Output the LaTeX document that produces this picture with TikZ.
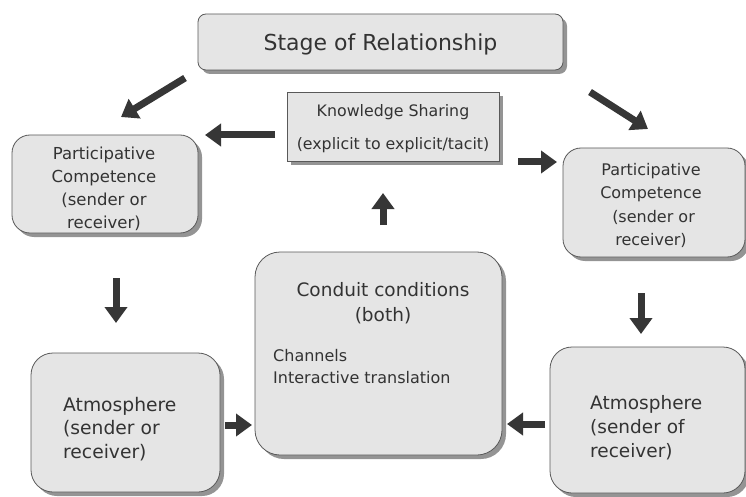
\documentclass[tikz,border=0pt]{standalone}
\usepackage{fontspec}
\setmainfont{DejaVu Sans}
\usetikzlibrary{shadows,arrows.meta}
\definecolor{txtc}{HTML}{333333}
\definecolor{arrc}{HTML}{363636}
\tikzset{
  box/.style={draw=black!65, fill=black!10, line width=0.8pt,
    drop shadow={shadow xshift=4pt, shadow yshift=-4pt, fill=black!42, opacity=1}},
  lbl/.style={text=txtc, inner sep=0pt},
  arr/.style={draw=arrc, line width=7pt, -{Triangle[width=22pt,length=16pt]}}
}
\newcommand{\fs}[2]{\fontsize{#1}{#2}\selectfont}
\begin{document}
\begin{tikzpicture}[x=1pt,y=-1pt]
\useasboundingbox (0,0) rectangle (746,497);
% boxes
\node[box, rounded corners=8pt, minimum width=365pt, minimum height=56pt] (stage) at (380.5,42) {};
\node[box, minimum width=212pt, minimum height=69pt] (ks) at (393,126.5) {};
\node[box, rounded corners=18pt, minimum width=186pt, minimum height=98pt] (pcl) at (105,184) {};
\node[box, rounded corners=18pt, minimum width=182pt, minimum height=109pt] (pcr) at (654,202.5) {};
\node[box, rounded corners=25pt, minimum width=247pt, minimum height=203pt] (cond) at (378.5,353.5) {};
\node[box, rounded corners=22pt, minimum width=189pt, minimum height=139pt] (atl) at (125.5,422.5) {};
\node[box, rounded corners=22pt, minimum width=195pt, minimum height=146pt] (atr) at (647.5,420) {};
% texts
\node[lbl, font=\fs{22}{26}] (stageT) at (380.5,44) {Stage of Relationship};
\node[lbl, align=center, font=\fs{15.8}{33}] (ksT) at (393,129) {Knowledge Sharing\\(explicit to explicit/tacit)};
\node[lbl, align=center, font=\fs{16.5}{23}] (pclT) at (104,189) {Participative\\Competence\\(sender or\\receiver)};
\node[lbl, align=center, font=\fs{16}{23.5}] (pcrT) at (651,205.5) {Participative\\Competence\\\ (sender or\\receiver)};
\node[lbl, align=center, font=\fs{18.5}{25}] (condT) at (383,303) {Conduit conditions\\(both)};
\node[lbl, align=left, anchor=west, font=\fs{16}{22}] (condL) at (273,367) {Channels\\Interactive translation};
\node[lbl, align=left, anchor=west, font=\fs{18.7}{23.5}] (atlT) at (63,429) {Atmosphere\\(sender or\\receiver)};
\node[lbl, align=left, anchor=west, font=\fs{18.5}{24}] (atrT) at (590,428) {Atmosphere\\(sender of\\receiver)};
% arrow end points
\coordinate (a1s) at (185,78);  \coordinate (a1e) at (121,117);
\coordinate (a2s) at (590,92);  \coordinate (a2e) at (648,129);
\coordinate (a3s) at (275,135); \coordinate (a3e) at (205,135);
\coordinate (a4s) at (518,162); \coordinate (a4e) at (557,162);
\coordinate (a5s) at (383,225); \coordinate (a5e) at (383,193);
\coordinate (a6s) at (116,278); \coordinate (a6e) at (116,323);
\coordinate (a7s) at (641,293); \coordinate (a7e) at (641,334);
\coordinate (a8s) at (225,425); \coordinate (a8e) at (252,425);
\coordinate (a9s) at (545,424); \coordinate (a9e) at (507,424);
\draw[arr] (a1s) -- (a1e);
\draw[arr] (a2s) -- (a2e);
\draw[arr] (a3s) -- (a3e);
\draw[arr] (a4s) -- (a4e);
\draw[arr] (a5s) -- (a5e);
\draw[arr] (a6s) -- (a6e);
\draw[arr] (a7s) -- (a7e);
\draw[arr] (a8s) -- (a8e);
\draw[arr] (a9s) -- (a9e);
\end{tikzpicture}
\end{document}
